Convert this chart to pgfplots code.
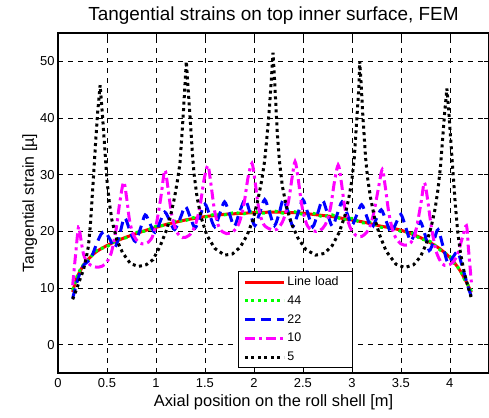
\documentclass[border=0pt]{standalone}
\usepackage{fontspec}
\setmainfont{Liberation Sans}
\usepackage{pgfplots}
\pgfplotsset{compat=1.18}
\definecolor{mred}{rgb}{1,0,0}
\definecolor{mgreen}{rgb}{0,1,0}
\definecolor{mblue}{rgb}{0,0,1}
\definecolor{mmag}{rgb}{1,0,1}

\begin{document}
\begin{tikzpicture}
\path[use as bounding box] (-58bp,-45bp) rectangle (431bp,373bp);
\begin{axis}[
  scale only axis,
  width=431bp, height=340bp,
  xmin=0, xmax=4.4, ymin=-5, ymax=55,
  xtick={0,0.5,...,4}, ytick={0,10,...,50},
  xticklabels={0,0.5,1,1.5,2,2.5,3,3.5,4},
  /pgf/number format/assume math mode=true,
  tick label style={font=\fontsize{13}{15}\selectfont},
  xticklabel style={yshift=-2bp},
  grid=major,
  major grid style={black, line width=0.5bp, dash pattern=on 5bp off 5bp},
  tick align=inside, tick pos=both, major tick length=5bp,
  tick style={black, line width=0.5bp},
  axis line style={black, line width=1.2bp},
  title={Tangential strains on top inner surface, FEM},
  title style={font=\fontsize{19}{22}\selectfont, yshift=-1bp},
  xlabel={Axial position on the roll shell [m]},
  ylabel={Tangential strain [µ]},
  ylabel style={yshift=-4bp, font=\fontsize{16}{19}\selectfont},
  xlabel style={font=\fontsize{16.5}{19}\selectfont},
  legend style={at={(0.418,0.015)}, anchor=south west, draw=black, line width=0.6bp,
    fill=white, font=\fontsize{12.5}{15}\selectfont, row sep=4.6bp, inner xsep=5bp, inner ysep=3.5bp,
    nodes={text width=58bp}},
  legend cell align=left,
  legend image code/.code={\draw[#1] (0bp,0bp) -- (39bp,0bp);},
]
\addplot[mred, line width=3bp, smooth] coordinates {
(0.15,9.3) (0.18,11.2) (0.22,12.8) (0.26,14.0) (0.30,14.9) (0.35,15.8) (0.40,16.5)
(0.50,17.5) (0.60,18.3) (0.70,19.0) (0.80,19.6) (0.90,20.2) (1.00,20.7) (1.10,21.2)
(1.20,21.6) (1.30,22.0) (1.40,22.3) (1.50,22.6) (1.60,22.8) (1.70,23.0) (1.80,23.1)
(1.90,23.2) (2.00,23.3) (2.10,23.35) (2.20,23.4) (2.30,23.35) (2.40,23.3) (2.50,23.2)
(2.60,23.0) (2.70,22.8) (2.80,22.6) (2.90,22.3) (3.00,22.0) (3.10,21.7) (3.20,21.3)
(3.30,20.9) (3.40,20.6) (3.50,20.2) (3.60,19.6) (3.70,18.9) (3.80,18.0) (3.90,16.9)
(4.00,15.4) (4.05,14.4) (4.10,13.2) (4.15,11.7) (4.19,10.3) (4.22,9.2)};
\addlegendentry{Line load}
\addplot[mgreen, line width=3bp, dash pattern=on 3bp off 3.5bp, smooth] coordinates {
(0.15,9.6) (0.2,12.3) (0.25,13.9) (0.3,14.8) (0.4,16.7) (0.5,17.3) (0.6,18.5) (0.7,18.9)
(0.8,19.8) (0.9,20.1) (1.0,20.9) (1.1,21.1) (1.2,21.8) (1.3,21.9) (1.4,22.5) (1.5,22.5)
(1.6,23.0) (1.7,22.9) (1.8,23.3) (1.9,23.1) (2.0,23.5) (2.1,23.2) (2.2,23.6) (2.3,23.2)
(2.4,23.5) (2.5,23.0) (2.6,23.2) (2.7,22.6) (2.8,22.9) (2.9,22.1) (3.0,22.3) (3.1,21.5)
(3.2,21.6) (3.3,20.7) (3.4,20.8) (3.5,20.0) (3.6,19.8) (3.7,18.7) (3.8,18.2) (3.9,16.7)
(4.0,15.6) (4.05,14.2) (4.1,13.3) (4.15,11.5) (4.19,10.4) (4.22,9.4)};
\addlegendentry{44}
\addplot[mblue, line width=3bp, dash pattern=on 10bp off 6bp, smooth] coordinates {
(0.15,8.2) (0.19,10.8) (0.23,12.9) (0.27,14.2) (0.30,14.6) (0.34,15.4) (0.39,17.6)
(0.44,19.5) (0.48,19.9) (0.53,18.6) (0.58,17.1) (0.63,19.5) (0.68,22.4) (0.74,19.8)
(0.79,18.2) (0.84,20.4) (0.89,22.9) (0.94,21.3) (0.99,19.8) (1.04,21.6) (1.09,23.4)
(1.14,21.9) (1.19,20.3) (1.25,22.4) (1.30,24.4) (1.35,22.5) (1.40,20.6) (1.45,22.7)
(1.50,24.8) (1.55,22.8) (1.60,20.8) (1.65,23.0) (1.70,25.2) (1.75,23.1) (1.80,20.9)
(1.85,23.2) (1.91,25.6) (1.96,23.3) (2.01,21.0) (2.06,23.3) (2.11,25.6) (2.16,23.3)
(2.21,21.0) (2.26,23.3) (2.30,25.6) (2.35,23.3) (2.40,20.9) (2.45,23.2) (2.50,25.6)
(2.55,23.2) (2.60,20.8) (2.65,23.1) (2.70,25.5) (2.75,23.2) (2.80,20.9) (2.85,23.0)
(2.90,25.2) (2.95,23.2) (3.00,21.1) (3.05,22.9) (3.10,24.7) (3.15,22.7) (3.20,20.6)
(3.25,22.2) (3.30,23.8) (3.35,21.8) (3.40,19.8) (3.45,21.4) (3.50,23.0) (3.55,20.7)
(3.60,18.3) (3.65,20.0) (3.70,21.7) (3.75,19.2) (3.79,16.6) (3.84,18.5) (3.88,20.3)
(3.93,17.4) (3.98,14.4) (4.03,15.4) (4.08,16.4) (4.12,14.2) (4.16,11.8) (4.19,10.0) (4.22,8.5)};
\addlegendentry{22}
\addplot[mmag, line width=3bp, dash pattern=on 10bp off 4bp on 3bp off 4bp, smooth, tension=0.5] coordinates {
(0.15,10.5) (0.18,16) (0.21,20.8) (0.23,19) (0.26,16) (0.30,14.5) (0.36,13.8) (0.42,13.7)
(0.48,14.2) (0.54,16) (0.59,20) (0.63,25) (0.67,28.7) (0.70,26) (0.73,22) (0.77,19.3)
(0.83,18) (0.89,17.8) (0.95,18.6) (1.00,21) (1.05,26) (1.09,30.8) (1.12,28) (1.16,23)
(1.21,20) (1.27,18.9) (1.34,19.3) (1.40,21) (1.45,24.5) (1.49,29) (1.53,31.6) (1.56,28.5)
(1.60,23.5) (1.65,20.5) (1.72,19.6) (1.79,20) (1.85,21.5) (1.90,25) (1.94,29.5) (1.98,32)
(2.01,29) (2.05,24) (2.10,21.2) (2.18,20.3) (2.24,20.4) (2.30,22) (2.35,25) (2.39,29.5)
(2.42,32.3) (2.45,29.5) (2.49,24.5) (2.54,21.2) (2.60,20.1) (2.67,20.1) (2.73,21.2)
(2.78,24) (2.82,28.5) (2.86,31.7) (2.89,29) (2.93,24) (2.98,20.8) (3.04,19.3) (3.10,19.1)
(3.17,20.3) (3.22,23) (3.27,27.5) (3.31,30.9) (3.34,28) (3.38,23) (3.43,19.5) (3.50,17.8)
(3.57,17.6) (3.63,18.7) (3.67,21.5) (3.71,25.5) (3.74,28.6) (3.77,26) (3.81,21) (3.86,16.5)
(3.92,14.3) (3.97,14) (4.03,14.5) (4.08,16) (4.13,19) (4.17,21) (4.19,17) (4.22,11)};
\addlegendentry{10}
\addplot[black, line width=3bp, dash pattern=on 3bp off 3.5bp] coordinates {
(0.15,8.0) (0.19,9.8) (0.23,11.8) (0.26,13.2) (0.29,15.5) (0.31,17.3) (0.33,21) (0.345,25)
(0.36,29) (0.385,36) (0.405,41) (0.43,45.8) (0.456,40) (0.48,34) (0.50,29) (0.525,25)
(0.55,22) (0.60,18.5) (0.66,16.2) (0.74,14.3) (0.82,13.8) (0.90,14.1) (0.97,15) (1.04,17.3)
(1.11,20.3) (1.15,22.8) (1.19,26) (1.22,29) (1.245,32) (1.265,37) (1.28,41) (1.295,45.5)
(1.31,50) (1.325,46) (1.345,41) (1.36,37) (1.375,33) (1.39,30) (1.42,26) (1.46,22.5)
(1.52,19.3) (1.60,17) (1.70,15.8) (1.78,16) (1.86,17.2) (1.93,19.3) (1.99,22) (2.04,25.5)
(2.08,29) (2.11,32.5) (2.135,37) (2.155,41) (2.175,46) (2.195,51.5) (2.21,47) (2.225,42)
(2.24,37) (2.26,32.5) (2.29,28) (2.33,24.5) (2.38,21.5) (2.45,18.8) (2.53,16.8) (2.63,15.8)
(2.72,16.1) (2.80,17.5) (2.87,19.8) (2.93,22.8) (2.97,26) (3.00,29) (3.025,33) (3.04,37)
(3.055,41) (3.07,45) (3.08,50) (3.095,46) (3.11,41) (3.125,37) (3.14,33) (3.16,29.5)
(3.19,26) (3.23,22.5) (3.28,19.5) (3.35,16.5) (3.45,14.2) (3.54,13.6) (3.63,14.1) (3.70,15.5)
(3.76,17.8) (3.81,20.8) (3.85,24) (3.88,27.5) (3.905,31.5) (3.925,36) (3.945,40.5) (3.97,45.2)
(3.99,41) (4.01,36) (4.03,31) (4.055,25) (4.08,20) (4.11,16) (4.15,12.5) (4.19,10) (4.22,8.2)};
\addlegendentry{5}
\end{axis}
\end{tikzpicture}
\end{document}
